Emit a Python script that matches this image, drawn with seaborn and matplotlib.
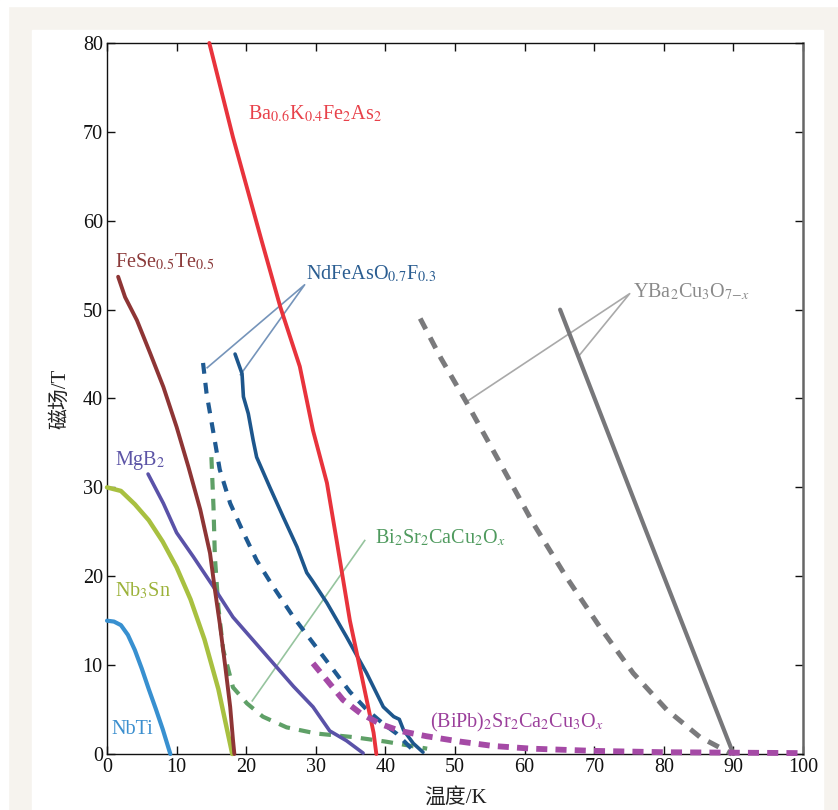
import matplotlib
matplotlib.use("Agg")
import matplotlib.pyplot as plt
import matplotlib.patches as mpatches
import seaborn as sns
import pandas as pd

# ---------------- data ----------------
nbti_T = [0, 1, 2, 3, 4, 5, 6, 7, 8, 9.1]
nbti_B = [15, 14.9, 14.5, 13.4, 11.7, 9.6, 7.3, 5.1, 2.8, 0]

nb3sn_T = [0, 2, 4, 6, 8, 10, 12, 14, 16, 18]
nb3sn_B = [30, 29.6, 28.1, 26.3, 23.9, 21, 17.4, 12.9, 7.3, 0]

fese_T = [1.6, 2.6, 4.3, 6.2, 8.1, 10.0, 11.7, 13.4, 14.8, 15.5, 16.2, 17.0, 17.7, 18.1, 18.3]
fese_B = [53.7, 51.4, 48.8, 45.1, 41.3, 36.8, 32.3, 27.5, 22.6, 18.5, 14.7, 9.8, 5.3, 1.6, 0]

bak_T = [14.7, 18.1, 22.2, 24.9, 27.7, 29.6, 31.6, 33.0, 34.9, 36.8, 38.3, 38.7]
bak_B = [80, 69.4, 57.8, 50.3, 43.6, 36.4, 30.5, 24.0, 15.0, 8.0, 2.4, 0]

ndfe_T = [18.4, 19.4, 19.6, 20.3, 21.0, 21.5, 23.4, 25.3, 27.3, 28.7, 29.5, 31.6, 34.4, 37.3, 39.7, 41.2, 42.0, 42.6, 44.0, 45.4]
ndfe_B = [45.0, 42.8, 40.2, 38.3, 35.3, 33.4, 30.0, 26.7, 23.3, 20.4, 19.5, 17.0, 13.2, 9.1, 5.3, 4.2, 3.9, 2.7, 1.2, 0.2]

ndfe_d_T = [13.8, 14.3, 15.3, 16.2, 17.7, 19.6, 21.5, 23.9, 26.8, 29.6, 32.5, 34.9, 37.3, 39.7, 41.6, 43.5, 44.5]
ndfe_d_B = [44.0, 40.6, 36.1, 32.0, 28.2, 24.9, 21.8, 18.8, 15.4, 12.5, 9.5, 7.0, 5.0, 3.4, 2.3, 0.8, 0.1]

mgb2_T = [5.9, 8.1, 10.0, 12.4, 15.3, 18.1, 21.0, 23.9, 26.8, 29.6, 32.0, 34.4, 36.8]
mgb2_B = [31.5, 28.2, 24.9, 22.2, 18.8, 15.4, 12.8, 10.2, 7.6, 5.3, 2.6, 1.5, 0.1]

bi2212_T = [15.0, 15.3, 15.5, 16.0, 16.7, 18.1, 20.1, 22.4, 25.8, 30.1, 35.4, 40.0, 46.0]
bi2212_B = [33.4, 27.8, 22.2, 16.5, 11.7, 7.5, 5.7, 4.2, 3.0, 2.3, 1.9, 1.4, 0.6]

bi2223_T = [29.6, 31.6, 33.9, 36.4, 39.2, 42.1, 45.9, 50.7, 55.5, 61.0, 70.0, 80.0, 100.0]
bi2223_B = [10.2, 8.3, 6.1, 4.6, 3.4, 2.6, 2.0, 1.4, 0.9, 0.6, 0.35, 0.2, 0.1]

ybco_d_T = [45.0, 48.0, 51.7, 56.5, 61.2, 66.0, 70.8, 75.6, 80.4, 85.2, 89.8]
ybco_d_B = [49.0, 44.5, 39.5, 32.7, 26.0, 19.9, 14.3, 9.1, 5.0, 1.9, 0.0]

ybco_T = [65.1, 77.5, 90.0]
ybco_B = [50.0, 25.0, 0.0]

x_ticks = [0, 10, 20, 30, 40, 50, 60, 70, 80, 90, 100]
y_ticks = [0, 10, 20, 30, 40, 50, 60, 70, 80]
x_label = "温度/K"
y_label = "磁场/T"

labels = {
    "bak": r"Ba$_{0.6}$K$_{0.4}$Fe$_2$As$_2$",
    "fese": r"FeSe$_{0.5}$Te$_{0.5}$",
    "ndfe": r"NdFeAsO$_{0.7}$F$_{0.3}$",
    "ybco": r"YBa$_2$Cu$_3$O$_{7{-}x}$",
    "mgb2": r"MgB$_2$",
    "bi2212": r"Bi$_2$Sr$_2$CaCu$_2$O$_x$",
    "nb3sn": r"Nb$_3$Sn",
    "nbti": r"NbTi",
    "bi2223": r"(BiPb)$_2$Sr$_2$Ca$_2$Cu$_3$O$_x$",
}

# ---------------- style ----------------
sns.set_style("white")
plt.rcParams["font.family"] = ["Liberation Serif", "Noto Sans CJK SC"]
plt.rcParams["mathtext.fontset"] = "stix"

W, H = 838, 810
fig = plt.figure(figsize=(W / 100, H / 100), dpi=100, facecolor="#f6f3ee")
# white panel and thin white outer margin (behind the axes)
fig.patches.append(mpatches.Rectangle((32 / W, 0), (823 - 32) / W, (H - 30) / H,
                                      transform=fig.transFigure, color="white", zorder=-5))
fig.patches.append(mpatches.Rectangle((0, (H - 6) / H), 1, 6 / H,
                                      transform=fig.transFigure, color="white", zorder=-5))
fig.patches.append(mpatches.Rectangle((0, 0), 8 / W, 1,
                                      transform=fig.transFigure, color="white", zorder=-5))

ax = fig.add_axes([107 / W, (H - 754) / H, (803 - 107) / W, (754 - 43) / H])
ax.set_facecolor("white")
ax.set_zorder(1)


def draw(T, B, color, lw, ls="-", z=3):
    df = pd.DataFrame({"T": T, "B": B})
    sns.lineplot(data=df, x="T", y="B", ax=ax, color=color, linewidth=lw,
                 sort=False, estimator=None, linestyle=ls, zorder=z,
                 solid_capstyle="round", solid_joinstyle="round",
                 dash_capstyle="butt", dash_joinstyle="round", clip_on=False)


# dashed curves first
draw(ybco_d_T, ybco_d_B, "#7a7a7c", 3.6, (0, (2.4, 1.9)))
draw(bi2212_T, bi2212_B, "#5fa067", 3.0, (0, (2.8, 2.2)))
draw(ndfe_d_T, ndfe_d_B, "#1f5a92", 3.0, (0, (2.6, 2.2)))
draw(bi2223_T, bi2223_B, "#a54aa6", 4.2, (0, (1.9, 1.4)), z=4)

# solid curves
draw(ybco_T, ybco_B, "#77777a", 3.0)
draw(nbti_T, nbti_B, "#3890d0", 3.0)
draw(nb3sn_T, nb3sn_B, "#a8c040", 3.2)
draw(mgb2_T, mgb2_B, "#5a52a8", 2.6)
draw(fese_T, fese_B, "#8e3535", 2.8)
draw(ndfe_T, ndfe_B, "#1d568c", 2.6)
draw(bak_T, bak_B, "#e8333c", 2.8)

# leader lines
lead_kw = dict(linewidth=1.2, zorder=2, solid_capstyle="butt")
ax.plot([14.3, 28.4, 19.1], [43.4, 52.8, 42.6], color="#7594ba", **lead_kw)
ax.plot([51.4, 75.1, 67.7], [39.5, 51.8, 44.7], color="#a9a9a9", **lead_kw)
ax.plot([37.1, 20.8], [24.1, 5.9], color="#96c49e", **lead_kw)

# labels
fs = 14.5
text_specs = [
    ("bak", 20.3, 72.0, "#e8414a"),
    ("fese", 1.2, 55.4, "#8b3a3a"),
    ("ndfe", 28.6, 54.0, "#2a5d91"),
    ("ybco", 75.6, 52.0, "#8a8a8a"),
    ("mgb2", 1.2, 33.0, "#5c54a6"),
    ("bi2212", 38.5, 24.3, "#4f9a5e"),
    ("nb3sn", 1.2, 18.4, "#9cb23a"),
    ("nbti", 0.6, 2.8, "#3b8fcf"),
    ("bi2223", 46.4, 3.6, "#9b3f9b"),
]
for key, x, y, c in text_specs:
    ax.text(x, y, labels[key], color=c, fontsize=fs, ha="left", va="center", zorder=5)

ax.set_xlim(0, 100)
ax.set_ylim(0, 80)
ax.set_xticks(x_ticks)
ax.set_yticks(y_ticks)
ax.set_xticklabels([str(v) for v in x_ticks])
ax.set_yticklabels([str(v) for v in y_ticks])
ax.tick_params(direction="in", length=6, width=1.0, top=True, right=True,
               bottom=True, left=True, labelsize=14.5, pad=3, colors="#111111")

for s in ["left", "bottom", "top"]:
    ax.spines[s].set_color("#111111")
    ax.spines[s].set_linewidth(1.0)
ax.spines["right"].set_color("#666666")
ax.spines["right"].set_linewidth(1.8)

ax.set_xlabel(x_label, fontsize=15, labelpad=8, color="#222222")
ax.set_ylabel(y_label, fontsize=15, labelpad=9, color="#222222")
ax.grid(False)

fig.savefig("out.png", dpi=100, facecolor=fig.get_facecolor())
